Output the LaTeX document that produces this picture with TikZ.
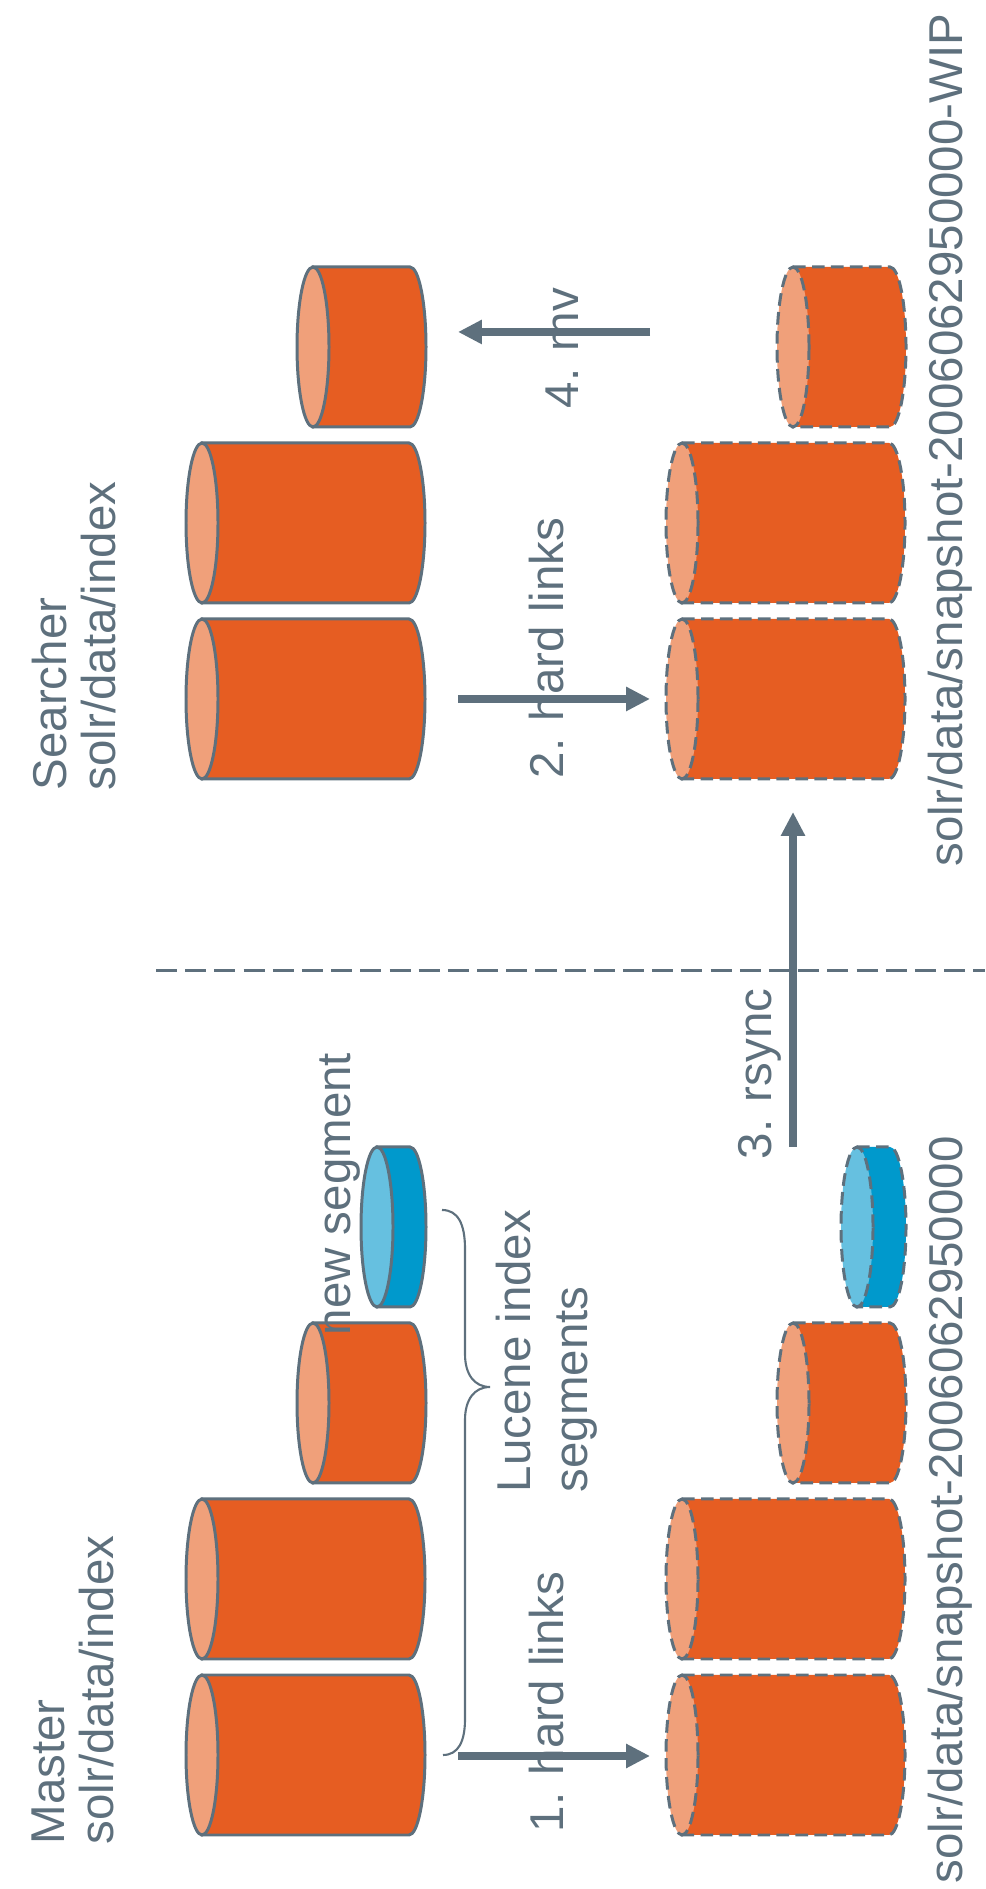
\documentclass[tikz,border=0pt]{standalone}
\usepackage{fontspec}
\setmainfont{Liberation Sans}
\usetikzlibrary{arrows.meta}

\definecolor{slate}{HTML}{5E707D}
\definecolor{orbody}{HTML}{E65D22}
\definecolor{orface}{HTML}{F0A07A}
\definecolor{blbody}{HTML}{0099CC}
\definecolor{blface}{HTML}{66C0E0}

\tikzset{
  rim/.style={draw=slate, line width=0.85pt},
  copied/.style={dash pattern=on 3.6pt off 1.8pt},
  link/.style={slate, line width=2.3pt, -{Triangle[length=6.8pt,width=6.5pt]}},
  lbl/.style={rotate=90, inner sep=0pt, text=slate, font=\fontsize{13.5pt}{14pt}\selectfont}
}

% segment file lying on its side: [style] left x, right x, centre y, colour
\newcommand{\drum}[5][]{%
  \filldraw[rim,fill=#5body,#1] (#2,#4+80) -- (#3,#4+80)
    arc[start angle=90,end angle=-90,x radius=16,y radius=80] -- (#2,#4-80) -- cycle;
  \filldraw[rim,fill=#5face,#1] (#2,#4) ellipse[x radius=16,y radius=80];
}

\begin{document}
\begin{tikzpicture}[x=0.01cm,y=0.01cm]
\useasboundingbox (0,0) rectangle (985,1889);

% searcher side
\drum{313}{410}{1542}{or}
\drum{202}{409}{1366}{or}
\drum{202}{409}{1190}{or}
\drum[copied]{793}{890}{1542}{or}
\drum[copied]{682}{889}{1366}{or}
\drum[copied]{682}{889}{1190}{or}

% master side
\drum{377}{410}{662}{bl}
\drum{313}{410}{486}{or}
\drum{202}{409}{310}{or}
\drum{202}{409}{134}{or}
\drum[copied]{857}{890}{662}{bl}
\drum[copied]{793}{890}{486}{or}
\drum[copied]{682}{889}{310}{or}
\drum[copied]{682}{889}{134}{or}

% machine boundary
\draw[slate, line width=0.85pt, dash pattern=on 6pt off 2.3pt] (156,918) -- (985,918);

% brace around the index segments
\draw[slate, line width=0.6pt] (442,679) .. controls (458,679) and (465,665) .. (465,640)
  -- (465,535) .. controls (465,515) and (474,502) .. (490,502)
  .. controls (474,502) and (465,489) .. (465,469)
  -- (465,170) .. controls (465,147) and (458,134) .. (443,134);

\coordinate (idx1) at (458,133);
\coordinate (snap1) at (650,133);
\coordinate (idx2) at (458,1190);
\coordinate (wip2) at (650,1190);
\coordinate (snapup) at (793,742);
\coordinate (wipdown) at (793,1077);
\coordinate (wipmv) at (650,1557);
\coordinate (searchmv) at (458,1557);

\draw[link] (idx1) -- (snap1);
\draw[link] (idx2) -- (wip2);
\draw[link] (snapup) -- (wipdown);
\draw[link] (wipmv) -- (searchmv);

\node[lbl, anchor=north west, align=left] (master) at (31,44) {Master\\solr/data/index};
\node[lbl, anchor=north west, align=left] (searcher) at (31,1098) {Searcher\\solr/data/index};
\node[lbl, anchor=north west, align=left, font=\fontsize{13.5pt}{16.2pt}\selectfont] (lucene) at (495,396) {Lucene index\\segments};
\node[lbl, anchor=base west] (newseg) at (350,553) {new segment};
\node[lbl, anchor=base west] (step1) at (563,56) {1. hard links};
\node[lbl, anchor=base west] (step2) at (563,1110) {2. hard links};
\node[lbl, anchor=base west] (step3) at (771,729) {3. rsync};
\node[lbl, anchor=base west] (step4) at (578,1480) {4. mv};
\node[lbl, anchor=base west] (snap) at (962,5) {solr/data/snapshot-2006062950000};
\node[lbl, anchor=base west] (wip) at (962,1022) {solr/data/snapshot-2006062950000-WIP};
\end{tikzpicture}
\end{document}
